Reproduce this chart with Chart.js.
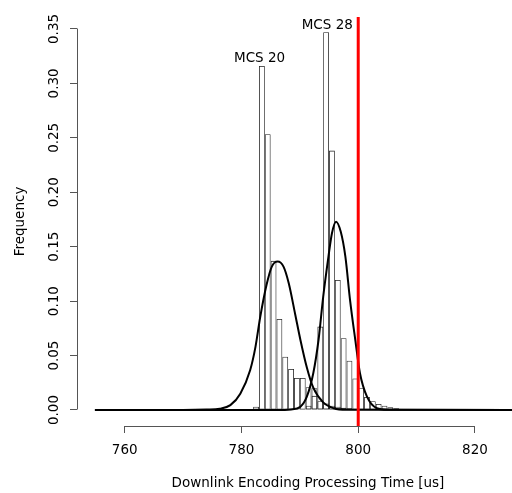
<!DOCTYPE html>
<html><head><meta charset="utf-8">
<script src="https://cdn.jsdelivr.net/npm/chart.js@4.4.0/dist/chart.umd.min.js"></script>
<style>html,body{margin:0;padding:0;background:#fff}canvas{display:block}</style>
</head><body>
<canvas id="c" width="512" height="493"></canvas>
<script>
// ---- data ----
const xTicks = [760, 780, 800, 820];
const xTickLabels = ['760', '780', '800', '820'];
const yTicks = [0, 0.05, 0.10, 0.15, 0.20, 0.25, 0.30, 0.35];
const yTickLabels = ['0.00', '0.05', '0.10', '0.15', '0.20', '0.25', '0.30', '0.35'];

// histogram bin mid-points (bin width 1 us) and relative frequencies
const bins20 = [782.5, 783.5, 784.5, 785.5, 786.5, 787.5, 788.5, 789.5, 790.5, 791.5, 792.5, 793.5, 794.5, 795.5, 796.5, 797.5, 798.5, 799.5, 800.5];
const freq20 = [0.003, 0.316, 0.2534, 0.137, 0.0836, 0.049, 0.0377, 0.0295, 0.0295, 0.021, 0.013, 0.008, 0.006, 0.004, 0.003, 0.002, 0.0015, 0.001, 0.001];
const bins28 = [790.5, 791.5, 792.5, 793.5, 794.5, 795.5, 796.5, 797.5, 798.5, 799.5, 800.5, 801.5, 802.5, 803.5, 804.5, 805.5, 806.5, 807.5];
const freq28 = [0.001, 0.004, 0.02, 0.0766, 0.347, 0.2383, 0.1195, 0.066, 0.0453, 0.029, 0.02, 0.012, 0.008, 0.0055, 0.004, 0.0025, 0.0015, 0.001];

// fitted density curves
const curve20X = [754.9, 770, 774, 776.3, 778.1, 779.8, 781.5, 782.4, 783.2, 784.3, 785.2, 786.2, 787.2, 788.1, 789.2, 790.1, 791.2, 792.3, 794.0, 795.8, 798, 832];
const curve20Y = [0, 0, 0.0004, 0.0012, 0.0045, 0.0150, 0.0368, 0.058, 0.0850, 0.1150, 0.1317, 0.1363, 0.1317, 0.1164, 0.0880, 0.0643, 0.0390, 0.0205, 0.0070, 0.0016, 0.0002, 0];
const curve28X = [754.9, 786, 788.5, 790.1, 791.2, 792.3, 793.2, 794.0, 794.9, 795.5, 796.2, 797.0, 797.8, 798.6, 799.5, 800.3, 801.5, 803.2, 805, 832];
const curve28Y = [0, 0, 0.0005, 0.003, 0.0122, 0.0337, 0.0643, 0.104, 0.1409, 0.1624, 0.173, 0.1639, 0.1409, 0.101, 0.0643, 0.0337, 0.0122, 0.0016, 0.0003, 0];

const threshold = 800;
const labelText = ['MCS 20', 'MCS 28'];
const labelX = [783.1, 794.7];
const labelY = [0.3245, 0.3543];
const xTitle = 'Downlink Encoding Processing Time [us]';
const yTitle = 'Frequency';

// ---- chart ----
const FONT = 13.5;
Chart.defaults.font.family = "'DejaVu Sans', sans-serif";
Chart.defaults.font.size = FONT;
Chart.defaults.color = '#000';

const al = p => Math.round(p - 0.5) + 0.5;

const rStyle = {
  id: 'rStyle',
  afterDatasetsDraw(chart) {
    const {ctx, chartArea, scales: {x, y}} = chart;
    ctx.save();
    const px = x.getPixelForValue(threshold);
    ctx.strokeStyle = '#ff0000';
    ctx.lineWidth = 3;
    ctx.beginPath();
    ctx.moveTo(px, chartArea.top);
    ctx.lineTo(px, chartArea.bottom);
    ctx.stroke();
    ctx.fillStyle = '#000';
    ctx.font = FONT + "px 'DejaVu Sans'";
    ctx.textAlign = 'center';
    ctx.textBaseline = 'alphabetic';
    labelText.forEach((t, i) => {
      ctx.fillText(t, x.getPixelForValue(labelX[i]), y.getPixelForValue(labelY[i]) + 0.365 * FONT);
    });
    ctx.restore();
  },
  afterDraw(chart) {
    const {ctx, chartArea, scales: {x, y}} = chart;
    ctx.save();
    ctx.strokeStyle = '#555';
    ctx.lineWidth = 1;
    // x axis line (only over tick range)
    const yb = al(chartArea.bottom);
    ctx.beginPath();
    ctx.moveTo(al(x.getPixelForValue(xTicks[0])), yb);
    ctx.lineTo(al(x.getPixelForValue(xTicks[xTicks.length - 1])), yb);
    ctx.stroke();
    // y axis line
    const xl = al(chartArea.left);
    ctx.beginPath();
    ctx.moveTo(xl, al(y.getPixelForValue(yTicks[0])));
    ctx.lineTo(xl, al(y.getPixelForValue(yTicks[yTicks.length - 1])));
    ctx.stroke();
    // rotated y tick labels
    ctx.fillStyle = '#000';
    ctx.font = FONT + "px 'DejaVu Sans'";
    ctx.textAlign = 'center';
    ctx.textBaseline = 'alphabetic';
    yTicks.forEach((v, i) => {
      ctx.save();
      ctx.translate(chartArea.left - 19.5, y.getPixelForValue(v));
      ctx.rotate(-Math.PI / 2);
      ctx.fillText(yTickLabels[i], 0, 0);
      ctx.restore();
    });
    // x axis title: centred on the (wider, cropped) R plot region
    ctx.textBaseline = 'middle';
    ctx.fillText(xTitle, chartArea.left + 231, chart.height - 9.5);
    ctx.restore();
  }
};

const barStyle = {
  type: 'bar',
  backgroundColor: 'rgba(0,0,0,0)',
  borderColor: '#222',
  borderWidth: 0.8,
  borderSkipped: false,
  grouped: false,
  barPercentage: 1,
  categoryPercentage: 1,
  inflateAmount: 0,
  order: 3
};
const lineStyle = {
  type: 'line',
  borderColor: '#000',
  borderWidth: 2,
  pointRadius: 0,
  fill: false,
  cubicInterpolationMode: 'monotone',
  order: 1
};

new Chart(document.getElementById('c'), {
  type: 'bar',
  data: {
    datasets: [
      Object.assign({label: 'MCS 20 histogram', data: bins20.map((b, i) => ({x: b, y: freq20[i]}))}, barStyle),
      Object.assign({label: 'MCS 28 histogram', data: bins28.map((b, i) => ({x: b, y: freq28[i]}))}, barStyle),
      Object.assign({label: 'MCS 20 density', data: curve20X.map((v, i) => ({x: v, y: curve20Y[i]}))}, lineStyle),
      Object.assign({label: 'MCS 28 density', data: curve28X.map((v, i) => ({x: v, y: curve28Y[i]}))}, lineStyle)
    ]
  },
  options: {
    responsive: false,
    animation: false,
    layout: {padding: {left: 0, top: 17, right: 0, bottom: 0}},
    plugins: {legend: {display: false}, tooltip: {enabled: false}},
    scales: {
      x: {
        type: 'linear', min: 751.83, max: 826.34, offset: false,
        afterBuildTicks: s => { s.ticks = xTicks.map(v => ({value: v})); },
        afterFit: s => { s.height = 67; },
        grid: {display: true, drawOnChartArea: false, drawTicks: true, tickLength: 7, color: '#555', offset: false},
        border: {display: false},
        ticks: {color: '#000', padding: 9, maxRotation: 0, autoSkip: false,
                callback: (v) => xTickLabels[xTicks.indexOf(v)] ?? ''},
        title: {display: false}
      },
      y: {
        type: 'linear', min: -0.0147, max: 0.361,
        afterBuildTicks: s => { s.ticks = yTicks.map(v => ({value: v})); },
        afterFit: s => { s.width = 77; },
        grid: {display: true, drawOnChartArea: false, drawTicks: true, tickLength: 7, color: '#555'},
        border: {display: false},
        ticks: {display: false},
        title: {display: true, text: yTitle, color: '#000', padding: {top: 12, bottom: 0}}
      }
    }
  },
  plugins: [rStyle]
});
</script>
</body></html>
